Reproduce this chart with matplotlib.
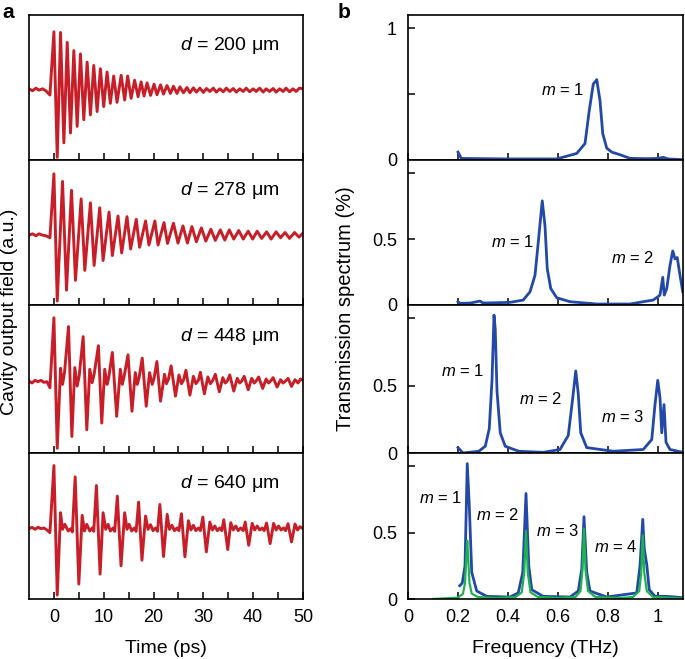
import numpy as np
import matplotlib
matplotlib.use('Agg')
import matplotlib.pyplot as plt

# 字体设置（接近 Arial）
plt.rcParams['font.family'] = ['Liberation Sans', 'DejaVu Sans']
plt.rcParams['mathtext.fontset'] = 'custom'
plt.rcParams['mathtext.it'] = 'Liberation Sans:italic'
plt.rcParams['mathtext.rm'] = 'Liberation Sans'

# ---------------- 数据：时域信号 (ps, a.u.) ----------------
thick = ['200', '278', '448', '640']   # 腔长 d (um)

t200 = [-5, -4.3, -3.6, -3.0, -2.3, -1.6, -0.8, 0.0, 0.67, 1.33, 2.0, 2.67, 3.33, 4.0, 4.67,
        5.33, 6.0, 6.67, 7.33, 8.0, 8.67, 9.33, 10.0, 10.67, 11.33, 12.0, 12.67, 13.5, 14.2,
        14.8, 15.5, 16.2, 16.9, 17.5, 18.1, 18.7, 19.4, 20.1, 20.7, 21.4, 22.0, 22.7, 23.4,
        24.0, 24.7, 25.3, 26.0, 26.7, 27.3, 28.0, 28.6, 29.3, 30.0, 30.6, 31.3, 32.0, 32.6,
        33.3, 34.0, 34.6, 35.3, 36.0, 36.6, 37.3, 38.0, 38.6, 39.3, 40.0, 40.6, 41.3, 42.0,
        42.6, 43.3, 44.0, 44.6, 45.3, 46.0, 46.6, 47.3, 48.0, 48.6, 49.3, 50.0]
v200 = [0.02, -0.01, 0.03, 0.0, 0.02, -0.01, -0.075, 0.885, -1.02, 0.875, -0.80, 0.725, -0.65,
        0.60, -0.55, 0.55, -0.45, 0.425, -0.375, 0.375, -0.325, 0.325, -0.25, 0.275, -0.2,
        0.215, -0.185, 0.225, -0.15, 0.215, -0.125, 0.15, -0.1, 0.125, -0.09, 0.11, -0.08,
        0.09, -0.07, 0.08, -0.06, 0.07, -0.05, 0.06, -0.05, 0.05, -0.04, 0.04, -0.04, 0.035,
        -0.03, 0.03, -0.035, 0.025, -0.02, 0.03, -0.03, 0.02, -0.025, 0.03, -0.02, 0.025,
        -0.03, 0.02, -0.02, 0.03, -0.025, 0.02, -0.02, 0.03, -0.03, 0.02, -0.02, 0.025,
        -0.03, 0.02, -0.02, 0.03, -0.025, 0.02, -0.02, 0.03, 0.02]

t278 = [-5, -4.3, -3.6, -3.0, -2.3, -1.6, -0.8, 0.0, 0.67, 1.73, 2.53, 3.53, 4.33, 5.47, 6.2,
        7.33, 8.07, 9.2, 9.87, 11.07, 11.73, 12.87, 13.6, 14.67, 15.4, 16.53, 17.2, 18.4,
        19.07, 20.27, 20.9, 22.1, 22.8, 24.0, 24.9, 25.9, 26.8, 27.7, 28.6, 29.6, 30.5, 31.5,
        32.4, 33.4, 34.3, 35.2, 36.1, 37.1, 38.0, 39.0, 39.9, 40.8, 41.7, 42.7, 43.6, 44.6,
        45.5, 46.4, 47.3, 48.3, 49.2, 50.0]
v278 = [0.0, 0.02, -0.01, 0.02, 0.0, -0.01, -0.04, 0.93, -1.0, 0.815, -0.835, 0.68, -0.685,
        0.55, -0.535, 0.49, -0.46, 0.415, -0.385, 0.35, -0.31, 0.29, -0.27, 0.28, -0.21, 0.24,
        -0.185, 0.215, -0.15, 0.215, -0.15, 0.19, -0.125, 0.18, -0.12, 0.14, -0.12, 0.13,
        -0.1, 0.11, -0.09, 0.09, -0.08, 0.08, -0.075, 0.08, -0.06, 0.07, -0.06, 0.06, -0.06,
        0.06, -0.05, 0.05, -0.06, 0.05, -0.04, 0.04, -0.05, 0.04, -0.03, 0.03]

t448 = [-5, -4.4, -3.8, -3.2, -2.6, -2.0, -1.4, -0.8, 0.0, 0.67, 1.33, 1.73, 2.13, 2.93, 3.6,
        4.2, 4.67, 5.07, 5.87, 6.6, 7.2, 7.67, 8.07, 8.93, 9.6, 10.2, 10.67, 11.0, 11.73, 12.6,
        13.33, 13.73, 14.1, 14.87, 15.67, 16.33, 16.73, 17.1, 17.73, 18.53, 19.2, 19.73, 20.1,
        20.67, 21.4, 22.2, 22.6, 23.0, 23.53, 24.4, 25.1, 25.6, 26.0, 26.5, 27.3, 28.0, 28.5,
        29.0, 29.4, 30.2, 30.9, 31.4, 31.9, 32.4, 33.2, 33.9, 34.4, 34.8, 35.3, 36.1, 36.8,
        37.3, 37.7, 38.2, 39.0, 39.7, 40.2, 40.6, 41.1, 41.9, 42.6, 43.1, 43.5, 44.0, 44.8,
        45.5, 46.0, 46.5, 47.0, 47.7, 48.4, 49.0, 49.5, 50.0]
v448 = [0.01, -0.02, 0.02, 0.0, 0.02, -0.01, 0.0, -0.09, 0.95, -0.99, 0.2, -0.04, 0.135, 0.82,
        -0.815, 0.21, -0.065, 0.085, 0.67, -0.715, 0.185, -0.015, 0.11, 0.535, -0.615, 0.185,
        -0.04, 0.06, 0.435, -0.515, 0.185, -0.04, 0.08, 0.4, -0.44, 0.135, -0.04, 0.06, 0.35,
        -0.365, 0.135, -0.04, 0.05, 0.3, -0.29, 0.11, -0.03, 0.04, 0.235, -0.215, 0.1, -0.03,
        0.02, 0.17, -0.2, 0.08, -0.03, 0.02, 0.14, -0.18, 0.07, -0.03, 0.02, 0.11, -0.15, 0.06,
        -0.02, 0.01, 0.1, -0.14, 0.05, -0.02, 0.01, 0.08, -0.12, 0.05, -0.02, 0.01, 0.07, -0.1,
        0.04, -0.02, 0.01, 0.06, -0.08, 0.03, -0.02, 0.01, 0.05, -0.07, 0.03, -0.02, 0.04, 0.02]

t640 = [-5, -4.4, -3.8, -3.2, -2.6, -2.0, -1.4, -0.8, 0.0, 0.67, 1.33, 1.73, 2.2, 2.87, 3.4,
        3.7, 4.27, 5.0, 5.67, 6.13, 6.6, 7.2, 7.7, 8.0, 8.53, 9.27, 9.87, 10.4, 10.87, 11.33,
        11.9, 12.2, 12.73, 13.47, 14.2, 14.67, 15.1, 15.6, 16.1, 16.5, 17.0, 17.67, 18.4, 18.9,
        19.4, 19.9, 20.4, 20.8, 21.27, 22.0, 22.73, 23.2, 23.7, 24.2, 24.7, 25.1, 25.6, 26.3,
        27.0, 27.5, 28.0, 28.5, 29.0, 29.4, 29.9, 30.6, 31.3, 31.8, 32.3, 32.8, 33.3, 33.7,
        34.1, 34.9, 35.5, 36.0, 36.5, 37.0, 37.5, 38.0, 38.4, 39.1, 39.8, 40.3, 40.8, 41.3,
        41.8, 42.2, 42.7, 43.4, 44.1, 44.6, 45.1, 45.6, 46.1, 46.5, 47.0, 47.7, 48.4, 48.9,
        49.4, 50.0]
v640 = [0.0, 0.02, -0.01, 0.02, 0.0, 0.01, -0.02, -0.06, 0.95, -1.0, 0.24, -0.01, 0.065, -0.035,
        0.0, -0.05, 0.78, -0.835, 0.2, -0.035, 0.065, -0.035, 0.01, -0.04, 0.65, -0.685, 0.24,
        -0.01, 0.065, -0.035, 0.01, -0.04, 0.49, -0.56, 0.24, -0.01, 0.065, -0.035, 0.01,
        -0.04, 0.4, -0.475, 0.19, -0.01, 0.06, -0.03, 0.01, -0.04, 0.365, -0.42, 0.215, -0.01,
        0.05, -0.03, 0.01, -0.03, 0.225, -0.425, 0.12, -0.02, 0.05, -0.03, 0.01, -0.03, 0.175,
        -0.35, 0.1, -0.02, 0.04, -0.03, 0.01, -0.03, 0.135, -0.315, 0.09, -0.02, 0.04, -0.03,
        0.01, -0.03, 0.1, -0.25, 0.08, -0.02, 0.04, -0.02, 0.01, -0.03, 0.085, -0.225, 0.08,
        -0.02, 0.04, -0.02, 0.01, -0.03, 0.075, -0.2, 0.07, -0.02, 0.03, 0.0]

# ---------------- 数据：透射谱 (THz, %) ----------------
f1 = [0.2, 0.213, 0.3, 0.4, 0.5, 0.595, 0.675, 0.708, 0.725, 0.741, 0.755, 0.768, 0.779,
      0.795, 0.815, 0.848, 0.888, 0.95, 1.0, 1.021, 1.04, 1.094]
s1 = [0.06, 0.012, 0.01, 0.008, 0.008, 0.008, 0.05, 0.125, 0.375, 0.575, 0.61, 0.45, 0.2,
      0.09, 0.06, 0.04, 0.0125, 0.01, 0.012, 0.02, 0.008, 0.003]

f2 = [0.2, 0.207, 0.25, 0.288, 0.3, 0.408, 0.461, 0.488, 0.508, 0.521, 0.537, 0.548, 0.557,
      0.571, 0.595, 0.648, 0.755, 0.888, 0.941, 0.981, 1.008, 1.019, 1.025, 1.035, 1.048,
      1.059, 1.068, 1.077, 1.088, 1.099]
s2 = [0.025, 0.0125, 0.015, 0.03, 0.015, 0.02, 0.0375, 0.1, 0.225, 0.475, 0.79, 0.6, 0.275,
      0.125, 0.055, 0.025, 0.0075, 0.0075, 0.025, 0.0375, 0.075, 0.21, 0.075, 0.125, 0.3,
      0.41, 0.35, 0.36, 0.225, 0.1]

f3 = [0.2, 0.22, 0.283, 0.309, 0.325, 0.336, 0.344, 0.349, 0.356, 0.369, 0.389, 0.443, 0.541,
      0.608, 0.641, 0.659, 0.671, 0.681, 0.691, 0.715, 0.821, 0.941, 0.975, 0.988, 0.999,
      1.008, 1.015, 1.024, 1.032, 1.048, 1.099]
s3 = [0.04, 0.0, 0.013, 0.05, 0.18, 0.54, 1.025, 0.92, 0.46, 0.15, 0.05, 0.013, 0.005, 0.026,
      0.13, 0.41, 0.61, 0.44, 0.15, 0.04, 0.013, 0.026, 0.1, 0.36, 0.54, 0.41, 0.15, 0.36,
      0.08, 0.026, 0.005]

f4 = [0.207, 0.217, 0.228, 0.237, 0.245, 0.255, 0.275, 0.295, 0.315, 0.408, 0.441, 0.459,
      0.472, 0.483, 0.495, 0.541, 0.648, 0.681, 0.695, 0.704, 0.715, 0.728, 0.795, 0.915,
      0.928, 0.939, 0.945, 0.955, 0.965, 0.988, 1.035, 1.1]
s4 = [0.1, 0.12, 0.25, 1.02, 0.71, 0.2, 0.06, 0.04, 0.02, 0.015, 0.046, 0.2, 0.795, 0.25,
      0.07, 0.02, 0.015, 0.06, 0.225, 0.62, 0.2, 0.06, 0.015, 0.046, 0.25, 0.6, 0.38, 0.26,
      0.07, 0.02, 0.02, 0.01]

# 拟合曲线（绿色）
f4_fit = [0.1, 0.2, 0.22, 0.228, 0.233, 0.237, 0.241, 0.246, 0.255, 0.28, 0.35, 0.43, 0.455,
          0.465, 0.472, 0.479, 0.49, 0.52, 0.6, 0.67, 0.69, 0.698, 0.704, 0.71, 0.72, 0.75,
          0.85, 0.9, 0.925, 0.933, 0.939, 0.945, 0.955, 0.98, 1.1]
s4_fit = [0.0, 0.01, 0.04, 0.12, 0.3, 0.44, 0.3, 0.12, 0.04, 0.015, 0.007, 0.015, 0.05, 0.2,
          0.51, 0.2, 0.05, 0.015, 0.008, 0.015, 0.06, 0.22, 0.53, 0.22, 0.06, 0.015, 0.008,
          0.015, 0.06, 0.2, 0.48, 0.2, 0.06, 0.015, 0.005]

# 模式标注 (f, y, 文本)
mode_labels = [
    [(0.62, 0.53, '$m$ = 1')],
    [(0.42, 0.48, '$m$ = 1'), (0.9, 0.36, '$m$ = 2')],
    [(0.22, 0.61, '$m$ = 1'), (0.53, 0.40, '$m$ = 2'), (0.86, 0.27, '$m$ = 3')],
    [(0.13, 0.76, '$m$ = 1'), (0.36, 0.63, '$m$ = 2'), (0.6, 0.51, '$m$ = 3'),
     (0.83, 0.39, '$m$ = 4')],
]

traces = [(t200, v200), (t278, v278), (t448, v448), (t640, v640)]
spectra = [(f1, s1), (f2, s2), (f3, s3), (f4, s4)]

red = '#C81E28'
blue = '#2349A8'
green = '#1DB24E'

fig = plt.figure(figsize=(6.85, 6.59), dpi=100)
W, H = 685.0, 659.0
tops = [15, 160, 305, 453]
bots = [160, 305, 453, 599]

# ---------------- 左图 a ----------------
for i in range(4):
    ax = fig.add_axes([29 / W, 1 - bots[i] / H, 274 / W, (bots[i] - tops[i]) / H])
    t, v = traces[i]
    ax.plot(t, v, color=red, lw=2.1, solid_joinstyle='round')
    ax.set_xlim(-5, 50)
    ax.set_ylim(-1.06, 1.14)
    ax.set_yticks([])
    ax.set_xticks([0, 10, 20, 30, 40, 50])
    ax.set_xticks([5, 15, 25, 35, 45], minor=True)
    ax.tick_params(axis='x', which='both', direction='in', length=5, width=1.1,
                   labelsize=13, top=False, pad=7)
    if i < 3:
        ax.tick_params(axis='x', labelbottom=False)
    else:
        ax.set_xlabel('Time (ps)', fontsize=14, labelpad=10)
    for sp in ax.spines.values():
        sp.set_linewidth(1.2)
    ax.text(0.915, 0.79, '$d$ = ' + thick[i] + ' μm', transform=ax.transAxes,
            ha='right', va='center', fontsize=14)

fig.text(10 / W, 1 - 312 / H, 'Cavity output field (a.u.)', rotation=90,
         ha='center', va='center', fontsize=14)
fig.text(2 / W, 1 - 12 / H, 'a', fontsize=15, fontweight='bold', ha='left', va='center')

# ---------------- 右图 b ----------------
for i in range(4):
    ax = fig.add_axes([408 / W, 1 - bots[i] / H, 275 / W, (bots[i] - tops[i]) / H])
    f, s = spectra[i]
    ax.plot(f, s, color=blue, lw=2.0, solid_joinstyle='round')
    if i == 3:
        ax.plot(f4_fit, s4_fit, color=green, lw=1.6, solid_joinstyle='round')
    ax.set_xlim(0, 1.1)
    ax.set_ylim(0, 1.1)
    ax.set_xticks([0, 0.2, 0.4, 0.6, 0.8, 1.0])
    ax.set_xticklabels(['0', '0.2', '0.4', '0.6', '0.8', '1'])
    ax.set_yticks([0, 0.5, 1.0])
    if i == 0:
        ax.set_yticklabels(['0', '', '1'])
    else:
        ax.set_yticklabels(['0', '0.5', ''])
    ax.tick_params(axis='both', direction='in', length=5, width=1.1, labelsize=13)
    ax.tick_params(axis='y', pad=8)
    ax.tick_params(axis='x', pad=7)
    if i < 3:
        ax.tick_params(axis='x', labelbottom=False)
    else:
        ax.set_xlabel('Frequency (THz)', fontsize=14, labelpad=10)
    for sp in ax.spines.values():
        sp.set_linewidth(1.2)
    for (x, y, txt) in mode_labels[i]:
        ax.text(x, y, txt, ha='center', va='center', fontsize=12)

fig.text(345 / W, 1 - 309 / H, 'Transmission spectrum (%)', rotation=90,
         ha='center', va='center', fontsize=14.5)
fig.text(338 / W, 1 - 12 / H, 'b', fontsize=15, fontweight='bold', ha='left', va='center')

fig.savefig('out.png', dpi=100)
